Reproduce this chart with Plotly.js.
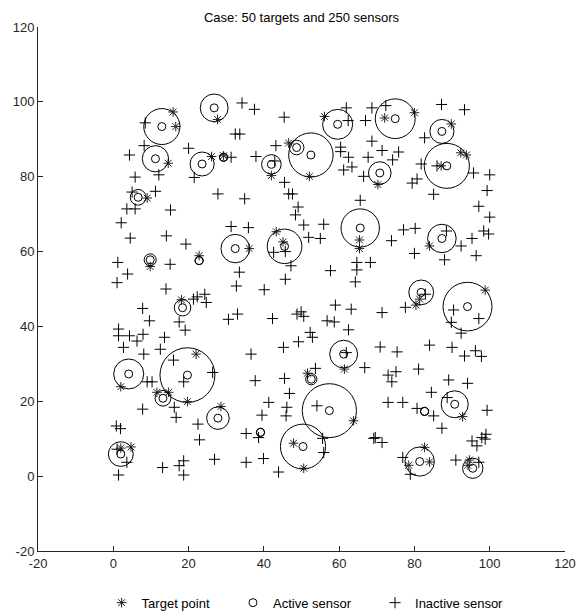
<!DOCTYPE html>
<html><head><meta charset="utf-8">
<script src="https://cdn.plot.ly/plotly-3.0.1.min.js"></script>
<style>html,body{margin:0;padding:0;background:#fff}</style>
</head><body><div id="chart" style="width:581px;height:613px"></div>
<script>
const chartTitle = "Case: 50 targets and 250 sensors";
const legendNames = ["Target point", "Active sensor", "Inactive sensor"];
const axisTicks = [-20, 0, 20, 40, 60, 80, 100, 120];

const targetX = [15.9,16.6,27.7,14.6,26.1,29.3,9.0,56.1,46.6,52.1,42.0,72.1,80.0,89.8,70.3,87.1,92.3,93.8,9.8,22.8,18.1,36.1,45.1,43.3,65.4,65.4,84.0,81.4,80.4,98.8,2.0,22.0,19.7,11.6,14.7,28.6,2.0,4.7,61.4,51.6,63.8,47.9,50.6,92.8,78.5,84.0,82.7,94.6,94.2];
const targetY = [97.3,93.4,95.3,83.6,85.4,85.6,74.3,96.1,89.0,80.1,80.3,95.7,97.1,94.1,77.9,82.9,86.4,85.8,56.0,58.9,47.1,60.8,62.6,65.3,63.1,60.8,61.5,47.3,45.7,49.7,23.9,32.6,19.9,22.4,22.4,18.6,7.5,7.8,28.6,27.5,14.8,8.8,2.1,15.9,2.9,3.8,7.7,4.3,2.9];

const activeX = [12.9,26.8,11.2,23.6,29.3,6.6,59.6,52.5,48.7,42.0,74.9,87.3,70.8,88.6,9.8,22.8,18.4,32.4,45.5,65.6,87.3,81.8,94.1,4.1,19.7,13.2,27.8,2.0,61.2,52.6,57.4,39.1,50.4,90.7,82.7,81.4,95.5];
const activeY = [93.4,98.4,84.8,83.4,85.2,74.5,94.0,85.8,87.8,83.3,95.5,92.1,81.0,82.9,57.8,57.6,45.0,60.8,61.4,66.3,63.5,49.1,45.3,27.3,27.0,20.8,15.5,5.9,32.6,25.9,17.5,11.7,7.9,19.2,17.3,3.9,2.1];
const activeR = [4.8,3.7,3.5,3.2,1.1,2.1,4.0,5.9,1.95,2.6,5.3,3.2,3.0,6.0,1.6,1.1,2.2,3.8,4.6,5.1,3.8,3.3,6.5,4.0,7.3,2.1,3.0,3.3,3.7,1.5,7.2,1.1,6.0,3.6,1.1,3.9,2.7];

const inactiveX = [8.5,32.4,33.6,8.2,4.3,20.0,12.1,5.8,21.5,31.3,11.2,5.0,3.6,5.8,15.2,27.8,2.1,
34.2,37.5,45.4,61.9,62.4,67.0,68.7,43.2,37.9,42.9,60.4,60.4,62.5,67.7,68.7,61.2,63.4,66.5,45.5,46.6,47.6,34.9,49.1,48.4,65.6,
72.4,87.2,93.3,82.7,71.4,75.8,74.2,86.0,81.8,95.7,100.0,99.3,80.7,79.4,85.1,97.1,100.0,
4.5,14.1,19.3,15.1,1.2,3.8,1.0,14.0,21.3,22.3,24.3,24.7,7.8,9.6,17.5,19.1,30.6,33.0,1.4,1.4,4.3,6.3,7.9,2.7,13.6,12.5,8.1,31.3,33.5,32.7,
35.9,50.6,55.9,51.9,55.0,42.6,45.7,47.2,64.7,64.7,68.3,57.7,64.3,45.7,40.1,42.3,48.8,49.9,50.6,56.8,58.7,59.0,63.2,62.5,52.3,52.9,49.2,45.2,36.6,
73.9,77.1,80.2,88.5,92.4,95.3,98.4,99.7,80.0,88.0,96.4,82.9,77.6,90.4,97.1,89.8,92.4,71.4,70.9,75.4,84.0,90.0,96.2,
16.0,9.0,10.3,18.7,26.4,16.2,16.7,7.8,22.5,22.9,0.8,1.9,1.0,3.6,1.4,13.1,17.5,18.7,18.7,26.9,
61.9,66.8,53.7,45.5,37.7,54.1,46.8,41.3,46.1,45.9,39.5,38.6,35.3,55.6,55.9,35.3,39.9,43.9,69.2,
93.3,97.8,73.0,75.1,74.0,81.1,89.1,94.1,84.5,88.7,73.0,76.9,80.7,85.1,99.3,87.3,69.6,71.4,95.3,96.6,97.9,99.0,98.8,76.9,78.9,91.0,97.1];
const inactiveY = [94.4,91.4,91.4,88.3,85.8,87.6,80.5,79.9,79.8,85.2,76.1,75.9,71.4,71.4,71.1,75.4,67.7,
99.7,98.0,95.9,98.4,95.0,95.0,98.4,88.3,85.4,84.2,87.9,86.7,85.2,85.2,89.5,81.8,82.6,80.1,78.5,75.4,75.4,74.1,71.9,69.8,73.7,
99.0,99.3,97.9,90.4,87.0,86.6,84.5,82.9,83.4,81.0,80.5,76.3,79.4,78.3,75.3,72.1,69.2,
63.6,64.2,62.0,56.6,57.1,54.0,51.7,50.0,47.3,47.9,48.6,46.4,44.8,41.5,41.2,39.0,41.9,43.3,39.3,37.5,37.5,36.1,37.9,34.4,37.1,33.9,32.6,66.7,54.5,50.8,
66.4,67.1,67.3,63.8,63.5,59.8,60.0,56.2,57.1,55.1,57.1,54.9,51.9,52.6,49.8,42.1,43.3,43.9,42.7,41.5,41.2,45.7,44.6,39.1,38.4,37.1,35.9,34.4,32.6,
62.9,65.8,66.2,65.5,61.5,63.5,65.5,64.7,59.5,57.8,58.9,48.6,45.1,44.4,42.1,41.1,38.2,43.7,34.5,33.2,35.0,34.4,33.5,
31.0,25.2,25.2,25.2,27.7,18.4,15.7,17.9,13.9,9.7,13.4,12.7,7.2,3.7,0.3,2.3,2.8,4.1,0.3,4.5,
33.0,29.0,28.8,26.1,25.5,18.8,22.1,19.7,18.4,16.1,16.3,10.3,11.4,10.1,6.3,3.7,4.7,1.1,10.1,
32.1,32.0,27.0,27.9,25.2,28.6,25.7,24.8,22.4,21.0,19.7,19.7,18.1,16.1,17.6,12.8,10.3,9.0,9.4,8.1,10.3,11.2,9.9,5.0,0.5,4.3,3.7];

const ink = '#000000';
const axisColor = '#262626';
const fontFam = 'Liberation Sans, Arial, sans-serif';

const traces = [
  {x: targetX, y: targetY, name: legendNames[0], type: 'scatter', mode: 'markers', legend: 'legend',
   marker: {symbol: 'asterisk-open', size: 8, color: '#222', line: {color: '#222', width: 1}}},
  {x: activeX, y: activeY, name: legendNames[1], type: 'scatter', mode: 'markers', legend: 'legend2',
   marker: {symbol: 'circle-open', size: 8, color: ink, line: {color: ink, width: 1}}},
  {x: inactiveX, y: inactiveY, name: legendNames[2], type: 'scatter', mode: 'markers', legend: 'legend3',
   marker: {symbol: 'cross-thin-open', size: 8, color: ink, line: {color: ink, width: 1}}}
];

const shapes = activeX.map((cx, i) => ({
  type: 'circle', xref: 'x', yref: 'y', layer: 'above',
  x0: cx - activeR[i], x1: cx + activeR[i],
  y0: activeY[i] - activeR[i], y1: activeY[i] + activeR[i],
  line: {color: ink, width: 1}
}));

const axisCommon = {
  range: [axisTicks[0], axisTicks[axisTicks.length - 1]],
  tickvals: axisTicks, ticktext: axisTicks.map(String),
  showgrid: false, zeroline: false, showline: true, mirror: false,
  linecolor: axisColor, linewidth: 1, ticks: 'inside', ticklen: 5,
  tickcolor: axisColor, tickwidth: 1,
  tickfont: {family: fontFam, size: 13, color: axisColor}
};

function legendAt(x) {
  return {orientation: 'h', x: x, xanchor: 'left', y: -0.0987, yanchor: 'middle',
          font: {family: fontFam, size: 13, color: '#000'}, bgcolor: 'rgba(0,0,0,0)', borderwidth: 0};
}

const layout = {
  width: 581, height: 613,
  margin: {l: 38, r: 16, t: 27, b: 62, autoexpand: false},
  paper_bgcolor: '#fff', plot_bgcolor: '#fff',
  title: {text: chartTitle, xref: 'paper', x: 0.5, xanchor: 'center', y: 0.971, yanchor: 'middle',
          font: {family: fontFam, size: 13, color: '#000'}},
  xaxis: Object.assign({}, axisCommon),
  yaxis: Object.assign({}, axisCommon),
  showlegend: true,
  legend: legendAt(0.1207),
  legend2: legendAt(0.3700),
  legend3: legendAt(0.6395),
  shapes: shapes
};

Plotly.newPlot('chart', traces, layout, {displayModeBar: false, staticPlot: true});
</script></body></html>
